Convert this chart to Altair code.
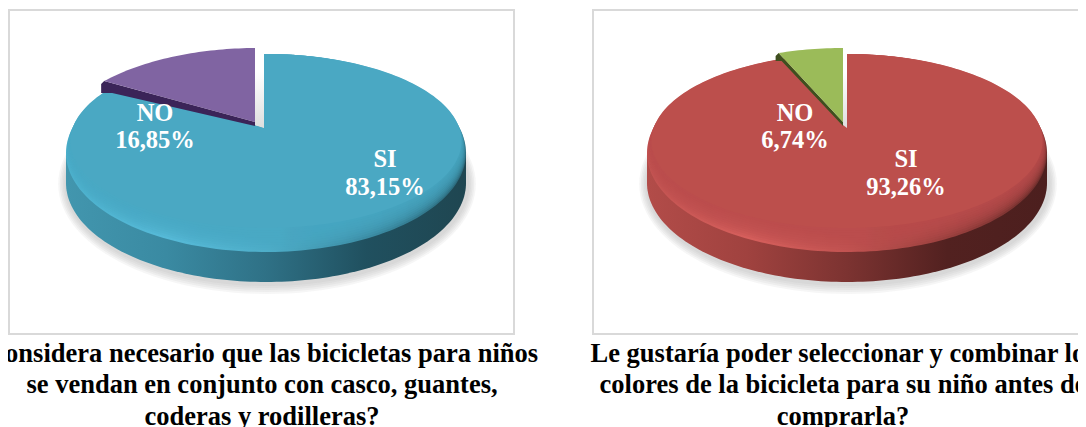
import math
import altair as alt
import pandas as pd

# ---- data
pie_names = ["left", "right"]
si_values = [83.15, 93.26]
no_values = [16.85, 6.74]
si_labels = ["83,15%", "93,26%"]
no_labels = ["16,85%", "6,74%"]
titles = [
    ["Considera necesario que las bicicletas para niños",
     "se vendan en conjunto con casco, guantes,",
     "coderas y rodilleras?"],
    ["Le gustaría poder seleccionar y combinar los",
     "colores de la bicicleta para su niño antes de",
     "comprarla?"],
]

# ---- layout and style, in picture pixels
W, H = 1086, 427
M = 8
CX = [266, 847]
APEX_X = [264, 847]
APEX_Y = 128
CY, RX, RY, DEPTH = 153, 200, 99, 30
NO_SHIFT = [(-9, -6), (-4, -6)]
NO_STRETCH = 1.025
TIP_DROP = [(8, 12), (3, 8)]
PANELS = [(9, 514), (593, 1088)]
PANEL_Y = (10, 334)
NO_LABEL_X = [155, 795]
SI_LABEL_X = [385, 906]
TITLE_X = [262, 843]
TITLE_Y = [354, 385, 417]
TOP = ["#4aa8c3", "#bc4f4c"]
NO_COL = ["#8064a2", "#9bbb59"]
NO_DARK = ["#3b2458", "#3f4f1f"]
RIM = [
    ["#4cb0cc", "#56bad8", "#4eaec9", "#3c8da5", "#2c6a7c"],
    ["#c25351", "#d65f5c", "#c25351", "#9a403e", "#6e2e2c"],
]
WALL = [
    ["#4296ae", "#3a8aa2", "#2f7186", "#20505f", "#1f4651"],
    ["#b24c49", "#a0423f", "#7c3331", "#522120", "#4c1f1e"],
]

PLOT_W, PLOT_H = W - 2 * M, H - M
x_scale = alt.Scale(domain=[M, M + PLOT_W], range=[0, PLOT_W], nice=False, zero=False)
y_scale = alt.Scale(domain=[M, M + PLOT_H], range=[0, PLOT_H], nice=False, zero=False)


def hgrad(colors):
    n = len(colors) - 1
    return alt.Gradient(
        gradient="linear", x1=0, x2=1, y1=0, y2=0,
        stops=[alt.GradientStop(color=c, offset=i / n) for i, c in enumerate(colors)],
    )


def ray_hit(cx, cy, rx, ry, ax, ay, deg):
    """Where the ray from the apex at this share angle meets the ellipse."""
    t = math.radians(deg)
    dx, dy = RX * math.sin(t), -RY * math.cos(t)
    ox, oy = (ax - cx) / rx, (ay - cy) / ry
    ux, uy = dx / rx, dy / ry
    a = ux * ux + uy * uy
    b = 2 * (ox * ux + oy * uy)
    c = ox * ox + oy * oy - 1
    s = (-b + math.sqrt(b * b - 4 * a * c)) / (2 * a)
    return ax + s * dx, ay + s * dy


def slice_pts(cx, cy, rx, ry, ax, ay, d0, d1, step=1.5):
    n = max(2, int(abs(d1 - d0) / step))
    pts = [(ax, ay)]
    for i in range(n + 1):
        pts.append(ray_hit(cx, cy, rx, ry, ax, ay, d0 + (d1 - d0) * i / n))
    pts.append((ax, ay))
    return pts


def poly(pts, **mark):
    df = pd.DataFrame({"x": [p[0] for p in pts], "y": [p[1] for p in pts],
                       "i": range(len(pts))})
    mark.setdefault("strokeOpacity", 0)
    mark.setdefault("strokeWidth", 0)
    return alt.Chart(df).mark_line(**mark).encode(
        x=alt.X("x:Q", scale=x_scale, axis=None),
        y=alt.Y("y:Q", scale=y_scale, axis=None),
        order=alt.Order("i:Q"),
    )


def ellipse_pts(cx, cy, rx, ry, a0=0, a1=360, n=120):
    return [(cx + rx * math.cos(math.radians(a0 + (a1 - a0) * i / n)),
             cy + ry * math.sin(math.radians(a0 + (a1 - a0) * i / n))) for i in range(n + 1)]


def text(rows, color, size):
    df = pd.DataFrame(rows, columns=["x", "y", "t"])
    return alt.Chart(df).mark_text(
        font="Liberation Serif", fontWeight="bold", fontSize=size, color=color,
        align="center", baseline="middle",
    ).encode(
        x=alt.X("x:Q", scale=x_scale, axis=None),
        y=alt.Y("y:Q", scale=y_scale, axis=None),
        text="t:N",
    )


layers = []
for p, _ in enumerate(pie_names):
    cx, ax = CX[p], APEX_X[p]
    si_deg = 360 * si_values[p] / (si_values[p] + no_values[p])
    sx, sy = NO_SHIFT[p]

    # panel
    xl, xr = PANELS[p]
    frame = pd.DataFrame({"x": [xl], "x2": [xr], "y": [PANEL_Y[0]], "y2": [PANEL_Y[1]]})
    layers.append(alt.Chart(frame).mark_rect(fill="white", stroke="#d9d9d9", strokeWidth=2).encode(
        x=alt.X("x:Q", scale=x_scale, axis=None), x2="x2:Q",
        y=alt.Y("y:Q", scale=y_scale, axis=None), y2="y2:Q"))

    # soft shadow
    for k in (11, 9, 7, 5, 3):
        layers.append(poly(ellipse_pts(cx + 1, CY + DEPTH + 1, RX + k * 0.8, RY + k),
                           fill="#9a9a9a", fillOpacity=0.09))

    # side wall
    wall = ellipse_pts(cx, CY, RX, RY, 180, 360, 4)[:1]
    wall += ellipse_pts(cx, CY + DEPTH, RX, RY, 180, 0)
    wall += [(cx + RX, CY), (cx - RX, CY)]
    layers.append(poly(wall, fill=hgrad(WALL[p])))

    # top surface with bevel
    layers.append(poly(slice_pts(cx, CY, RX, RY, ax, APEX_Y, 0, si_deg), fill=hgrad(RIM[p])))
    steps = 10
    for k in range(1, steps + 1):
        ry = RY - 1.2 * k
        rx = RX - 0.45 * k
        last = k == steps
        layers.append(poly(slice_pts(cx, 54 + ry, rx, ry, ax, APEX_Y, 0, si_deg),
                           fill=TOP[p], fillOpacity=1 if last else 0.22))

    # gap between the pieces
    top_x, top_y = ray_hit(cx, CY, RX, RY, ax, APEX_Y, 359.9)
    gap = [(ax + sx, top_y + sy), (ax, top_y), (ax, APEX_Y), (ax + sx, APEX_Y + sy + 3)]
    layers.append(poly(gap, fill=alt.Gradient(
        gradient="linear", x1=0, x2=0, y1=0, y2=1,
        stops=[alt.GradientStop(color="#ffffff", offset=0.3),
               alt.GradientStop(color="#dedede", offset=1)])))

    # NO piece, lifted out, with its dark cut face
    no_pts = [(ax + sx + (x - ax) * NO_STRETCH, y + sy) for x, y in
              slice_pts(cx, CY, RX, RY, ax, APEX_Y, si_deg, 360)]
    tip = no_pts[1]
    apex = no_pts[0]
    dx, dy = TIP_DROP[p]
    dark = [apex, (apex[0], apex[1] + 4), (tip[0] + dx, tip[1] + dy), (tip[0] - 3, tip[1] + dy),
            (tip[0] - 3, tip[1] + 3), tip]
    layers.append(poly(dark, fill=NO_DARK[p]))
    layers.append(poly(no_pts, fill=NO_COL[p]))

    # labels
    layers.append(text([(NO_LABEL_X[p], 114, "NO"), (NO_LABEL_X[p], 141, no_labels[p]),
                        (SI_LABEL_X[p], 160, "SI"), (SI_LABEL_X[p], 188, si_labels[p])],
                       "white", 24.5))
    layers.append(text([(TITLE_X[p], TITLE_Y[i], titles[p][i]) for i in range(3)], "black", 26.5))

chart = alt.layer(*layers).properties(
    width=PLOT_W, height=PLOT_H, padding=0,
    autosize=alt.AutoSizeParams(type="none"), background="white",
).configure_view(stroke=None)

chart.save("out.html", embed_options={"renderer": "svg", "actions": False})
